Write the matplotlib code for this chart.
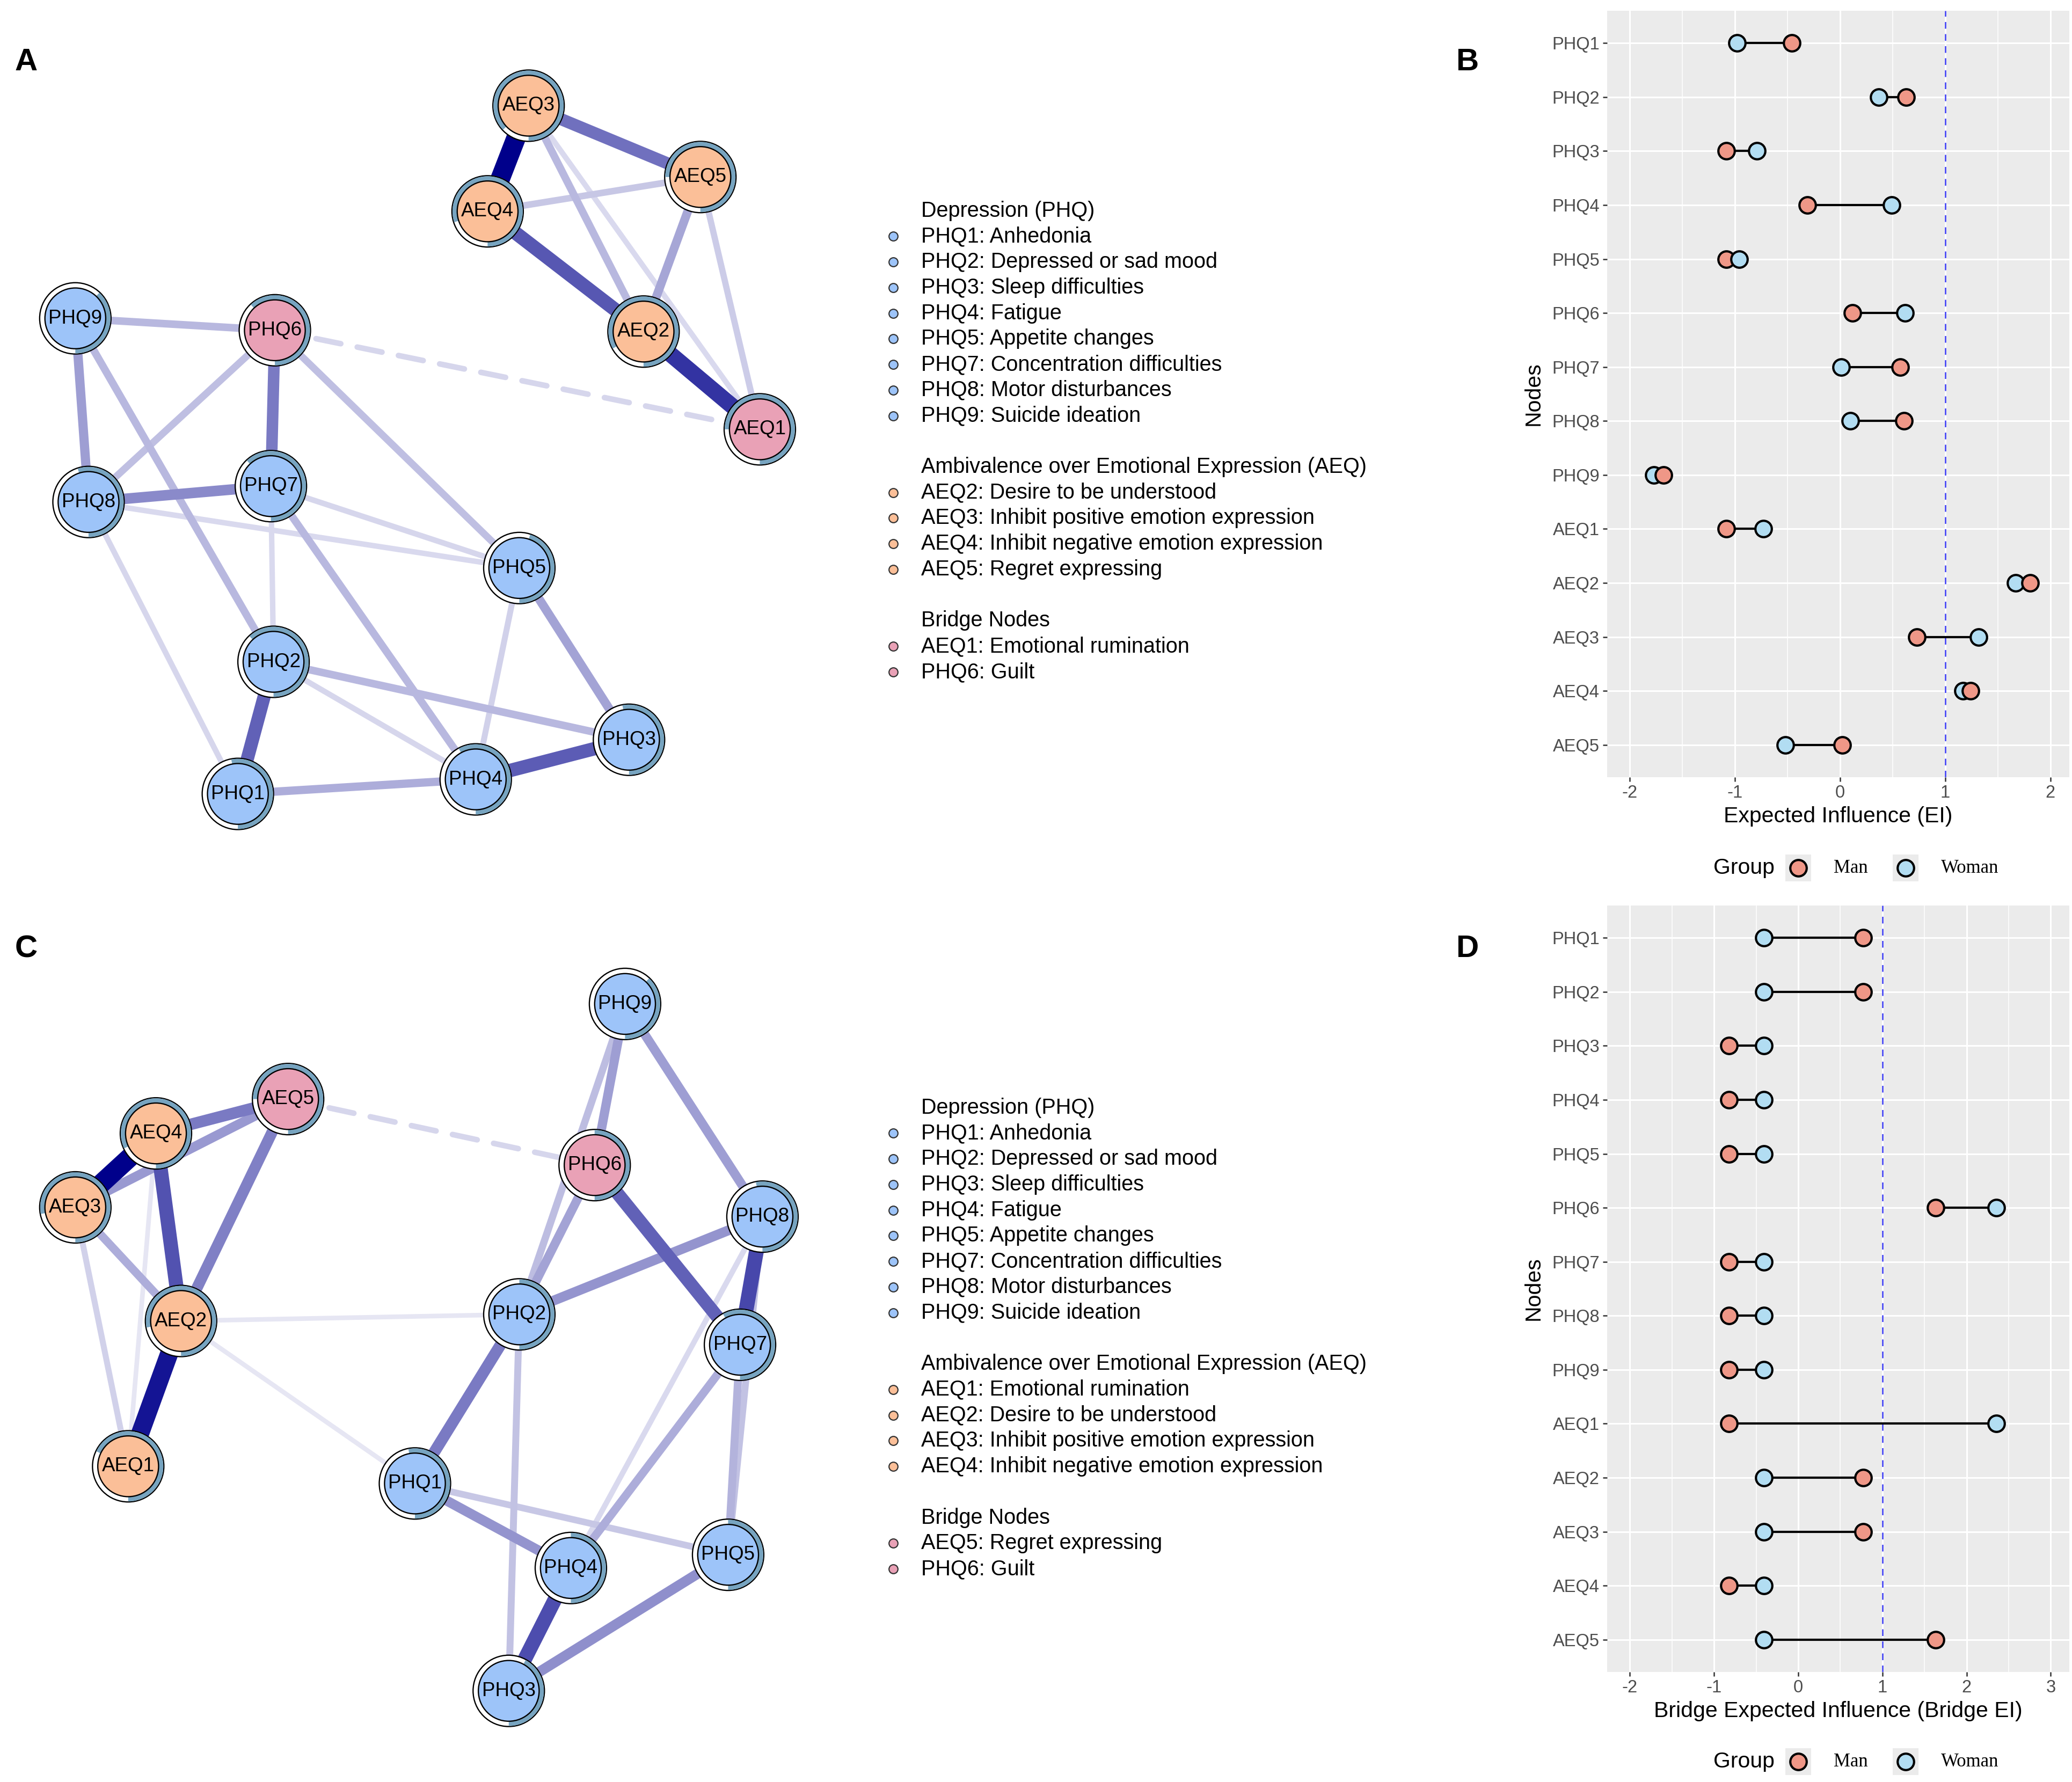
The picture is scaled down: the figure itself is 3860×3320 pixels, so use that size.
"""
Sex-specific networks of depression (PHQ) and ambivalence over emotional
expression (AEQ), with expected influence / bridge expected influence plots.
"""
import numpy as np
import matplotlib
matplotlib.use('Agg')
import matplotlib.pyplot as plt
from matplotlib.patches import Circle, Wedge, Rectangle
from matplotlib.lines import Line2D
from matplotlib.ticker import MultipleLocator
from matplotlib.colors import to_rgb

plt.rcParams['font.family'] = ['Liberation Sans', 'DejaVu Sans']

# ---------------------------------------------------------------- data
# network layouts (layout units, y pointing down)
nodes_A = ['AEQ1', 'AEQ2', 'AEQ3', 'AEQ4', 'AEQ5',
           'PHQ1', 'PHQ2', 'PHQ3', 'PHQ4', 'PHQ5', 'PHQ6', 'PHQ7', 'PHQ8', 'PHQ9']
layout_A_x = [575, 487, 400, 369, 530, 180, 207, 476, 360, 393, 208, 205, 67, 57]
layout_A_y = [325, 251, 80, 160, 134, 601, 501, 560, 590, 430, 250, 368, 380, 241]
predict_A = [0.75, 0.83, 0.87, 0.80, 0.75, 0.53, 0.62, 0.53, 0.58, 0.45, 0.62, 0.62, 0.55, 0.38]
bridge_A = ['AEQ1', 'PHQ6']
edges_A = [('AEQ3', 'AEQ4', 1.00), ('AEQ2', 'AEQ1', 0.80), ('AEQ4', 'AEQ2', 0.66),
           ('AEQ3', 'AEQ5', 0.56), ('PHQ4', 'PHQ3', 0.64), ('PHQ2', 'PHQ1', 0.62),
           ('PHQ6', 'PHQ7', 0.52), ('PHQ8', 'PHQ7', 0.46), ('AEQ5', 'AEQ2', 0.35),
           ('PHQ9', 'PHQ8', 0.38), ('PHQ5', 'PHQ3', 0.36), ('AEQ3', 'AEQ2', 0.28),
           ('PHQ9', 'PHQ6', 0.28), ('PHQ9', 'PHQ2', 0.28), ('PHQ6', 'PHQ8', 0.25),
           ('PHQ6', 'PHQ5', 0.25), ('PHQ7', 'PHQ4', 0.28), ('PHQ2', 'PHQ3', 0.28),
           ('PHQ1', 'PHQ4', 0.32), ('AEQ4', 'AEQ5', 0.22), ('AEQ5', 'AEQ1', 0.20),
           ('AEQ3', 'AEQ1', 0.15), ('PHQ8', 'PHQ5', 0.15), ('PHQ8', 'PHQ1', 0.16),
           ('PHQ7', 'PHQ5', 0.16), ('PHQ7', 'PHQ2', 0.15), ('PHQ5', 'PHQ4', 0.18),
           ('PHQ2', 'PHQ4', 0.16), ('PHQ6', 'AEQ1', -0.16)]

nodes_C = ['AEQ1', 'AEQ2', 'AEQ3', 'AEQ4', 'AEQ5',
           'PHQ1', 'PHQ2', 'PHQ3', 'PHQ4', 'PHQ5', 'PHQ6', 'PHQ7', 'PHQ8', 'PHQ9']
layout_C_x = [97, 137, 57, 118, 218, 314, 393, 385, 432, 551, 450, 560, 577, 473]
layout_C_y = [1110, 1000, 914, 858, 832, 1123, 995, 1280, 1187, 1177, 882, 1018, 921, 760]
predict_C = [0.68, 0.78, 0.78, 0.82, 0.75, 0.53, 0.50, 0.42, 0.50, 0.50, 0.50, 0.58, 0.53, 0.38]
bridge_C = ['AEQ5', 'PHQ6']
edges_C = [('AEQ4', 'AEQ3', 1.00), ('AEQ2', 'AEQ1', 0.92), ('AEQ4', 'AEQ2', 0.68),
           ('AEQ4', 'AEQ5', 0.52), ('AEQ5', 'AEQ2', 0.50), ('AEQ3', 'AEQ5', 0.40),
           ('AEQ3', 'AEQ2', 0.32), ('AEQ3', 'AEQ1', 0.18), ('AEQ4', 'AEQ1', 0.10),
           ('AEQ2', 'PHQ2', 0.10), ('AEQ2', 'PHQ1', 0.10), ('AEQ5', 'PHQ6', -0.16),
           ('PHQ9', 'PHQ6', 0.38), ('PHQ9', 'PHQ2', 0.26), ('PHQ9', 'PHQ8', 0.38),
           ('PHQ6', 'PHQ2', 0.36), ('PHQ6', 'PHQ7', 0.62), ('PHQ8', 'PHQ2', 0.42),
           ('PHQ8', 'PHQ7', 0.72), ('PHQ8', 'PHQ4', 0.15), ('PHQ7', 'PHQ4', 0.32),
           ('PHQ7', 'PHQ5', 0.30), ('PHQ8', 'PHQ5', 0.24), ('PHQ2', 'PHQ1', 0.52),
           ('PHQ2', 'PHQ3', 0.24), ('PHQ1', 'PHQ4', 0.42), ('PHQ1', 'PHQ5', 0.22),
           ('PHQ4', 'PHQ3', 0.70), ('PHQ5', 'PHQ3', 0.44)]

# legends of the networks
phq_items = ['PHQ1: Anhedonia', 'PHQ2: Depressed or sad mood', 'PHQ3: Sleep difficulties',
             'PHQ4: Fatigue', 'PHQ5: Appetite changes', 'PHQ7: Concentration difficulties',
             'PHQ8: Motor disturbances', 'PHQ9: Suicide ideation']
aeq_items_A = ['AEQ2: Desire to be understood', 'AEQ3: Inhibit positive emotion expression',
               'AEQ4: Inhibit negative emotion expression', 'AEQ5: Regret expressing']
bridge_items_A = ['AEQ1: Emotional rumination', 'PHQ6: Guilt']
aeq_items_C = ['AEQ1: Emotional rumination', 'AEQ2: Desire to be understood',
               'AEQ3: Inhibit positive emotion expression',
               'AEQ4: Inhibit negative emotion expression']
bridge_items_C = ['AEQ5: Regret expressing', 'PHQ6: Guilt']

# centrality plots
ei_nodes = ['PHQ1', 'PHQ2', 'PHQ3', 'PHQ4', 'PHQ5', 'PHQ6', 'PHQ7', 'PHQ8', 'PHQ9',
            'AEQ1', 'AEQ2', 'AEQ3', 'AEQ4', 'AEQ5']
ei_man = [-0.46, 0.63, -1.08, -0.31, -1.08, 0.12, 0.57, 0.61, -1.68,
          -1.08, 1.81, 0.73, 1.24, 0.02]
ei_woman = [-0.98, 0.37, -0.79, 0.49, -0.96, 0.62, 0.01, 0.10, -1.77,
            -0.73, 1.67, 1.32, 1.17, -0.52]
bei_man = [0.77, 0.77, -0.82, -0.82, -0.82, 1.63, -0.82, -0.82, -0.82,
           -0.82, 0.77, 0.77, -0.82, 1.63]
bei_woman = [-0.41, -0.41, -0.41, -0.41, -0.41, 2.35, -0.41, -0.41, -0.41,
             2.35, -0.41, -0.41, -0.41, -0.41]

# ---------------------------------------------------------------- style
W, H = 3860, 3320
COL_PHQ = '#9DC4F9'
COL_AEQ = '#FBBF98'
COL_BRIDGE = '#E9A1B6'
COL_RING = '#77A4C0'
EDGE_BASE = np.array(to_rgb('#00008B'))
COL_MAN = '#EF9787'
COL_WOMAN = '#B2DDF2'
R_OUT, R_IN = 27.0, 23.0


def fig_xy(x, y):
    """reference pixel -> figure fraction"""
    return x / W, 1 - y / H


def node_color(name, bridge):
    if name in bridge:
        return COL_BRIDGE
    return COL_AEQ if name.startswith('AEQ') else COL_PHQ


def draw_network(ax, nodes, xs, ys, pred, bridge, edges):
    pos = {n: (x, y) for n, x, y in zip(nodes, xs, ys)}
    for a, b, w in edges:
        s = abs(w)
        col = 1 - s * (1 - EDGE_BASE)
        lw = 4 + 22 * s
        (xa, ya), (xb, yb) = pos[a], pos[b]
        if w > 0:
            ax.plot([xa, xb], [ya, yb], color=col, lw=lw, solid_capstyle='butt',
                    zorder=1 + s)
        else:
            ax.plot([xa, xb], [ya, yb], color=col, lw=lw, ls=(0, (4.5, 3.0)),
                    dash_capstyle='round', zorder=1 + s)
    for n, p in zip(nodes, pred):
        x, y = pos[n]
        ax.add_patch(Circle((x, y), R_OUT, fc='white', ec='black', lw=1.7, zorder=10))
        ax.add_patch(Wedge((x, y), R_OUT - 0.4, 90 - 360 * p, 90, width=R_OUT - R_IN - 0.4,
                           fc=COL_RING, ec='none', zorder=11))
        ax.add_patch(Circle((x, y), R_IN, fc=node_color(n, bridge), ec='black', lw=1.7,
                            zorder=12))
        ax.text(x, y, n, ha='center', va='center', fontsize=26.5, zorder=13)


def draw_net_legend(ax, y0, groups):
    step = 19.4
    line = 0
    for header, items, color in groups:
        ax.text(697, y0 + line * step, header, ha='left', va='center', fontsize=28.5)
        line += 1
        for item, c in zip(items, color):
            yy = y0 + line * step
            ax.plot([676], [yy], marker='o', ms=12, mfc=c, mec='#333333', mew=1.6)
            ax.text(697, yy, item, ha='left', va='center', fontsize=28.5)
            line += 1
        line += 1


def dot_panel(ax, man, woman, xlim, xticks, xlabel):
    n = len(ei_nodes)
    ypos = np.arange(n, 0, -1)
    ax.set_facecolor('#EBEBEB')
    ax.set_xlim(*xlim)
    ax.set_ylim(0.4, n + 0.6)
    ax.set_xticks(xticks)
    ax.set_xticklabels([str(t) for t in xticks])
    ax.xaxis.set_minor_locator(MultipleLocator(0.5))
    ax.set_yticks(ypos)
    ax.set_yticklabels(ei_nodes)
    ax.grid(which='major', color='white', lw=2.2)
    ax.grid(which='minor', axis='x', color='white', lw=1.1)
    ax.set_axisbelow(True)
    for s in ax.spines.values():
        s.set_visible(False)
    ax.tick_params(which='major', length=6, width=1.8, color='#333333',
                   labelsize=23.5, labelcolor='#4D4D4D', pad=4)
    ax.tick_params(which='minor', length=0)
    ax.axvline(1, color='#3A3AF5', lw=1.8, ls=(0, (5, 4)), zorder=2)
    lo = np.minimum(man, woman)
    hi = np.maximum(man, woman)
    ax.hlines(ypos, lo, hi, color='black', lw=3, zorder=3)
    for y, m, f in zip(ypos, man, woman):
        pts = sorted([(m, COL_MAN), (f, COL_WOMAN)], key=lambda t: t[0])
        for v, c in pts:
            ax.plot([v], [y], marker='o', ms=22, mfc=c, mec='black', mew=3, zorder=4)
    ax.text(0.5, -0.051, xlabel, transform=ax.transAxes, ha='center', va='center',
            fontsize=29.5)
    ax.text(-0.16, 0.5, 'Nodes', transform=ax.transAxes, ha='center', va='center',
            rotation=90, fontsize=29.5)


def group_legend(fig, yc):
    fig.text(*fig_xy(3249, yc), 'Group', ha='center', va='center', fontsize=29.5)
    for xc, xt, c, lab in [(3350, 3416, COL_MAN, 'Man'), (3550, 3616, COL_WOMAN, 'Woman')]:
        x0, y0 = fig_xy(xc - 24, yc + 25)
        fig.add_artist(Rectangle((x0, y0), 48 / W, 50 / H, transform=fig.transFigure,
                                 fc='#EBEBEB', ec='none'))
        fig.add_artist(Line2D([xc / W], [1 - yc / H], transform=fig.transFigure,
                              marker='o', ms=22, mfc=c, mec='black', mew=3))
        fig.text(*fig_xy(xt, yc), lab, ha='left', va='center', fontsize=25,
                 family='Liberation Serif')


# ---------------------------------------------------------------- figure
fig = plt.figure(figsize=(W / 100, H / 100), dpi=100)

net = fig.add_axes([0, 0, 1, 1])
net.set_xlim(0, 1568)
net.set_ylim(1349, 0)
net.axis('off')

draw_network(net, nodes_A, layout_A_x, layout_A_y, predict_A, bridge_A, edges_A)
draw_network(net, nodes_C, layout_C_x, layout_C_y, predict_C, bridge_C, edges_C)

draw_net_legend(net, 159.5, [
    ('Depression (PHQ)', phq_items, [COL_PHQ] * len(phq_items)),
    ('Ambivalence over Emotional Expression (AEQ)', aeq_items_A, [COL_AEQ] * 4),
    ('Bridge Nodes', bridge_items_A, [COL_BRIDGE] * 2)])
draw_net_legend(net, 838.5, [
    ('Depression (PHQ)', phq_items, [COL_PHQ] * len(phq_items)),
    ('Ambivalence over Emotional Expression (AEQ)', aeq_items_C, [COL_AEQ] * 4),
    ('Bridge Nodes', bridge_items_C, [COL_BRIDGE] * 2)])

axB = fig.add_axes([2994 / W, 1 - 1448 / H, 861 / W, 1428 / H])
dot_panel(axB, ei_man, ei_woman, (-2.214, 2.18), [-2, -1, 0, 1, 2],
          'Expected Influence (EI)')
axD = fig.add_axes([2994 / W, 1 - 3115 / H, 861 / W, 1428 / H])
dot_panel(axD, bei_man, bei_woman, (-2.27, 3.22), [-2, -1, 0, 1, 2, 3],
          'Bridge Expected Influence (Bridge EI)')

group_legend(fig, 1617)
group_legend(fig, 3282)

for lab, x, y in [('A', 49, 116), ('B', 2733, 116), ('C', 49, 1768), ('D', 2733, 1768)]:
    fig.text(*fig_xy(x, y), lab, ha='center', va='center', fontsize=42, weight='bold')

fig.savefig('out.png', dpi=100)
